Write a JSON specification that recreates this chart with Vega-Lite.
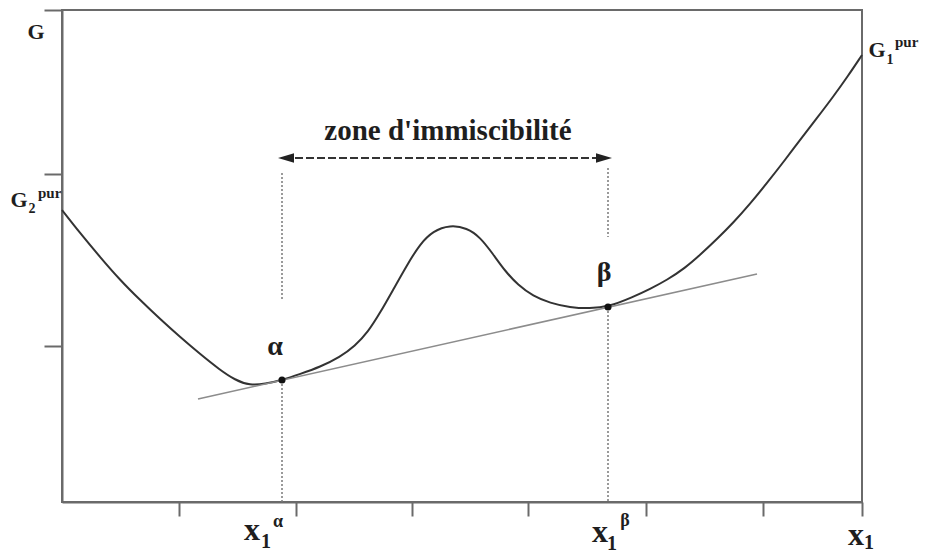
{
  "$schema": "https://vega.github.io/schema/vega-lite/v6.json",
  "width": 800,
  "height": 492,
  "autosize": "none",
  "padding": {"left": 62, "top": 10, "right": 66, "bottom": 51},
  "background": "white",
  "config": {
    "view": {"stroke": "#6a6a6a", "strokeWidth": 2},
    "text": {"font": "Liberation Serif", "fontWeight": "bold", "color": "#1e1e1e"}
  },
  "datasets": {
    "curve": [
      {"x": 0, "g": 292}, {"x": 18, "g": 269}, {"x": 38, "g": 245}, {"x": 58, "g": 222},
      {"x": 78, "g": 202}, {"x": 98, "g": 183}, {"x": 118, "g": 165}, {"x": 138, "g": 148},
      {"x": 158, "g": 132}, {"x": 173, "g": 122}, {"x": 188, "g": 116.5}, {"x": 203, "g": 118},
      {"x": 220, "g": 122}, {"x": 238, "g": 128}, {"x": 258, "g": 135}, {"x": 278, "g": 145},
      {"x": 293, "g": 156}, {"x": 306, "g": 170}, {"x": 318, "g": 189}, {"x": 331, "g": 212},
      {"x": 345, "g": 237}, {"x": 358, "g": 258}, {"x": 371, "g": 271}, {"x": 388, "g": 277},
      {"x": 405, "g": 274}, {"x": 418, "g": 265}, {"x": 431, "g": 248}, {"x": 443, "g": 231},
      {"x": 456, "g": 217}, {"x": 471, "g": 206}, {"x": 488, "g": 199}, {"x": 508, "g": 194.5},
      {"x": 528, "g": 193.5}, {"x": 546, "g": 195}, {"x": 571, "g": 205}, {"x": 588, "g": 213},
      {"x": 605, "g": 222}, {"x": 623, "g": 234}, {"x": 638, "g": 247}, {"x": 655, "g": 263},
      {"x": 671, "g": 279}, {"x": 688, "g": 298}, {"x": 705, "g": 319}, {"x": 723, "g": 342},
      {"x": 738, "g": 362}, {"x": 755, "g": 384}, {"x": 771, "g": 405}, {"x": 786, "g": 426},
      {"x": 800, "g": 447}
    ],
    "tangent": [{"x": 136, "g": 103}, {"x": 695, "g": 228}],
    "phases": [{"x": 220, "g": 122, "phase": "alpha"}, {"x": 546, "g": 195, "phase": "beta"}],
    "guides": [
      {"x": 220, "g1": 329, "g2": 202}, {"x": 220, "g1": 122, "g2": 0},
      {"x": 546, "g1": 334, "g2": 265}, {"x": 546, "g1": 195, "g2": 0}
    ],
    "zone": [{"x1": 222, "x2": 544, "g": 344}],
    "heads": [{"x": 224, "g": 344, "dir": "left"}, {"x": 542, "g": 344, "dir": "right"}],
    "labels": [
      {"role": "title", "x": 386, "g": 362, "text": "zone d'immiscibilité"},
      {"role": "phase", "x": 213, "g": 147, "text": "α"},
      {"role": "phase", "x": 542, "g": 221, "text": "β"},
      {"role": "axisG", "x": -26, "g": 463, "text": "G"},
      {"role": "axisG", "x": -43, "g": 295, "text": "G"},
      {"role": "axisG", "x": 815, "g": 445, "text": "G"},
      {"role": "small", "x": -30, "g": 289, "text": "2"},
      {"role": "small", "x": 828, "g": 438, "text": "1"},
      {"role": "smallL", "x": -24, "g": 304, "text": "pur"},
      {"role": "smallL", "x": 833, "g": 455, "text": "pur"},
      {"role": "axisX", "x": 190, "g": -38, "text": "x"},
      {"role": "axisX", "x": 538, "g": -40, "text": "x"},
      {"role": "axisX", "x": 794, "g": -43, "text": "x"},
      {"role": "sub", "x": 204, "g": -46, "text": "1"},
      {"role": "sub", "x": 550, "g": -48, "text": "1"},
      {"role": "sub", "x": 807, "g": -47, "text": "1"},
      {"role": "sup", "x": 216, "g": -25, "text": "α"},
      {"role": "sup", "x": 563, "g": -24, "text": "β"}
    ]
  },
  "layer": [
    {
      "data": {"name": "curve"},
      "mark": {"type": "line", "color": "#333333", "strokeWidth": 2, "interpolate": "basis"},
      "encoding": {
        "x": {
          "field": "x", "type": "quantitative",
          "scale": {"domain": [0, 800], "nice": false, "zero": false},
          "axis": {
            "orient": "bottom", "values": [117, 234, 350, 466, 584, 701, 800],
            "labels": false, "title": null, "grid": false,
            "domainColor": "#6a6a6a", "domainWidth": 2,
            "tickColor": "#6a6a6a", "tickWidth": 2, "tickSize": 14
          }
        },
        "y": {
          "field": "g", "type": "quantitative",
          "scale": {"domain": [0, 492], "nice": false, "zero": false},
          "axis": {
            "values": [156, 328, 492],
            "labels": false, "title": null, "grid": false,
            "domainColor": "#6a6a6a", "domainWidth": 2,
            "tickColor": "#6a6a6a", "tickWidth": 2, "tickSize": 18
          }
        }
      }
    },
    {
      "data": {"name": "tangent"},
      "mark": {"type": "line", "color": "#8c8c8c", "strokeWidth": 1.6},
      "encoding": {
        "x": {"field": "x", "type": "quantitative"},
        "y": {"field": "g", "type": "quantitative"}
      }
    },
    {
      "data": {"name": "guides"},
      "mark": {"type": "rule", "color": "#7a7a7a", "strokeWidth": 1.5, "strokeDash": [2, 2]},
      "encoding": {
        "x": {"field": "x", "type": "quantitative"},
        "y": {"field": "g1", "type": "quantitative"},
        "y2": {"field": "g2"}
      }
    },
    {
      "data": {"name": "zone"},
      "mark": {"type": "rule", "color": "#333333", "strokeWidth": 2, "strokeDash": [8, 3]},
      "encoding": {
        "x": {"field": "x1", "type": "quantitative"},
        "x2": {"field": "x2"},
        "y": {"field": "g", "type": "quantitative"}
      }
    },
    {
      "data": {"name": "heads"},
      "transform": [{"filter": "datum.dir === 'right'"}],
      "mark": {"type": "point", "shape": "M1,0L-1,-0.6L-1,0.6Z", "filled": true, "color": "#222222", "opacity": 1, "size": 256},
      "encoding": {
        "x": {"field": "x", "type": "quantitative"},
        "y": {"field": "g", "type": "quantitative"}
      }
    },
    {
      "data": {"name": "heads"},
      "transform": [{"filter": "datum.dir === 'left'"}],
      "mark": {"type": "point", "shape": "M-1,0L1,-0.6L1,0.6Z", "filled": true, "color": "#222222", "opacity": 1, "size": 256},
      "encoding": {
        "x": {"field": "x", "type": "quantitative"},
        "y": {"field": "g", "type": "quantitative"}
      }
    },
    {
      "data": {"name": "phases"},
      "mark": {"type": "point", "shape": "circle", "filled": true, "color": "#111111", "opacity": 1, "size": 50},
      "encoding": {
        "x": {"field": "x", "type": "quantitative"},
        "y": {"field": "g", "type": "quantitative"}
      }
    },
    {
      "data": {"name": "labels"},
      "transform": [{"filter": "datum.role === 'title'"}],
      "mark": {"type": "text", "fontSize": 29, "align": "center", "baseline": "alphabetic", "clip": false},
      "encoding": {
        "x": {"field": "x", "type": "quantitative"},
        "y": {"field": "g", "type": "quantitative"},
        "text": {"field": "text"}
      }
    },
    {
      "data": {"name": "labels"},
      "transform": [{"filter": "datum.role === 'phase'"}],
      "mark": {"type": "text", "fontSize": 28, "align": "center", "baseline": "alphabetic", "clip": false},
      "encoding": {
        "x": {"field": "x", "type": "quantitative"},
        "y": {"field": "g", "type": "quantitative"},
        "text": {"field": "text"}
      }
    },
    {
      "data": {"name": "labels"},
      "transform": [{"filter": "datum.role === 'axisG'"}],
      "mark": {"type": "text", "fontSize": 22, "align": "center", "baseline": "alphabetic", "clip": false},
      "encoding": {
        "x": {"field": "x", "type": "quantitative"},
        "y": {"field": "g", "type": "quantitative"},
        "text": {"field": "text"}
      }
    },
    {
      "data": {"name": "labels"},
      "transform": [{"filter": "datum.role === 'small'"}],
      "mark": {"type": "text", "fontSize": 14, "align": "center", "baseline": "alphabetic", "clip": false},
      "encoding": {
        "x": {"field": "x", "type": "quantitative"},
        "y": {"field": "g", "type": "quantitative"},
        "text": {"field": "text"}
      }
    },
    {
      "data": {"name": "labels"},
      "transform": [{"filter": "datum.role === 'smallL'"}],
      "mark": {"type": "text", "fontSize": 15, "align": "left", "baseline": "alphabetic", "clip": false},
      "encoding": {
        "x": {"field": "x", "type": "quantitative"},
        "y": {"field": "g", "type": "quantitative"},
        "text": {"field": "text"}
      }
    },
    {
      "data": {"name": "labels"},
      "transform": [{"filter": "datum.role === 'axisX'"}],
      "mark": {"type": "text", "fontSize": 32, "align": "center", "baseline": "alphabetic", "clip": false},
      "encoding": {
        "x": {"field": "x", "type": "quantitative"},
        "y": {"field": "g", "type": "quantitative"},
        "text": {"field": "text"}
      }
    },
    {
      "data": {"name": "labels"},
      "transform": [{"filter": "datum.role === 'sub'"}],
      "mark": {"type": "text", "fontSize": 20, "align": "center", "baseline": "alphabetic", "clip": false},
      "encoding": {
        "x": {"field": "x", "type": "quantitative"},
        "y": {"field": "g", "type": "quantitative"},
        "text": {"field": "text"}
      }
    },
    {
      "data": {"name": "labels"},
      "transform": [{"filter": "datum.role === 'sup'"}],
      "mark": {"type": "text", "fontSize": 18, "align": "center", "baseline": "alphabetic", "clip": false},
      "encoding": {
        "x": {"field": "x", "type": "quantitative"},
        "y": {"field": "g", "type": "quantitative"},
        "text": {"field": "text"}
      }
    }
  ]
}
